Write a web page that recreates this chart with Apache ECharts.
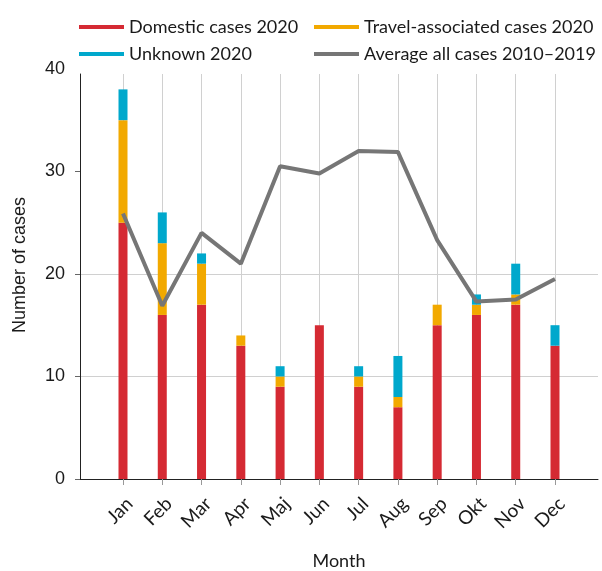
<!DOCTYPE html>
<html>
<head>
<meta charset="utf-8">
<script src="https://cdn.jsdelivr.net/npm/echarts@6/dist/echarts.min.js"></script>
<style>
  html, body { margin: 0; padding: 0; background: #fff; }
  #chart { width: 602px; height: 571px; }
</style>
</head>
<body>
<div id="chart"></div>
<script>
const months = ['Jan', 'Feb', 'Mar', 'Apr', 'Maj', 'Jun', 'Jul', 'Aug', 'Sep', 'Okt', 'Nov', 'Dec'];
const domestic = [25, 16, 17, 13, 9, 15, 9, 7, 15, 16, 17, 13];
const travel = [10, 7, 4, 1, 1, 0, 1, 1, 2, 1, 1, 0];
const unknown = [3, 3, 1, 0, 1, 0, 1, 4, 0, 1, 3, 2];
const average = [25.9, 16.9, 24.0, 21.0, 30.5, 29.8, 32.0, 31.9, 23.3, 17.3, 17.5, 19.5];
const yTicks = [0, 10, 20, 30, 40];

const chart = echarts.init(document.getElementById('chart'));

const textColor = '#1a1a1a';
const legendText = { fontFamily: 'Lato', fontSize: 18, color: textColor };

// plot area of the bars stops a little below the "40" label
const plotMax = 39.5;

const option = {
    animation: false,
    legend: [
        {
            orient: 'vertical',
            left: 74, top: 13,
            itemWidth: 45, itemHeight: 4, itemGap: 9,
            textStyle: legendText,
            data: [
                { name: 'Domestic cases 2020', icon: 'rect' },
                { name: 'Unknown 2020', icon: 'rect' }
            ]
        },
        {
            orient: 'vertical',
            left: 309, top: 13,
            itemWidth: 45, itemHeight: 4, itemGap: 9,
            textStyle: legendText,
            data: [
                { name: 'Travel-associated cases 2020', icon: 'rect' },
                { name: 'Average all cases 2010\u20132019', icon: 'rect' }
            ]
        }
    ],
    grid: [
        { left: 80, right: 4, top: 69, bottom: 92, outerBoundsMode: 'none', containLabel: false },
        { left: 123, right: 47, top: 74, bottom: 92, outerBoundsMode: 'none', containLabel: false }
    ],
    xAxis: [
        {
            gridIndex: 0,
            type: 'category',
            data: [''],
            axisLine: { lineStyle: { color: '#222', width: 1 } },
            axisTick: { show: false },
            axisLabel: { show: false },
            splitLine: { show: false }
        },
        {
            gridIndex: 1,
            type: 'category',
            data: months,
            boundaryGap: false,
            axisLine: { show: false },
            axisTick: { show: true, length: 6, lineStyle: { color: '#999' } },
            splitLine: { show: true, lineStyle: { color: '#d0d0d0', width: 1 } },
            axisLabel: {
                rotate: 45, margin: 15,
                align: 'right', verticalAlign: 'top',
                fontFamily: 'Lato', fontSize: 19, color: textColor
            },
            name: 'Month',
            nameLocation: 'middle',
            nameGap: 73,
            nameMoveOverlap: false,
            nameTextStyle: { fontFamily: 'Lato', fontSize: 18, color: textColor }
        }
    ],
    yAxis: [
        {
            gridIndex: 0,
            type: 'value',
            min: yTicks[0], max: yTicks[yTicks.length - 1], interval: 10,
            axisLine: { show: false },
            axisTick: { show: true, length: 5, lineStyle: { color: '#666' }, customValues: yTicks.slice(0, -1) },
            splitLine: { show: true, showMaxLine: false, lineStyle: { color: '#d0d0d0', width: 1 } },
            axisLabel: {
                margin: 15,
                fontFamily: 'Liberation Sans', fontSize: 18, color: textColor
            },
            name: 'Number of cases',
            nameLocation: 'middle',
            nameRotate: 90,
            nameGap: 51,
            nameMoveOverlap: false,
            nameTextStyle: { fontFamily: 'Liberation Sans', fontSize: 18, color: textColor, padding: [0, 0, 0, 18] }
        },
        {
            gridIndex: 1,
            type: 'value',
            min: 0, max: plotMax,
            offset: 43,
            axisLine: { show: true, lineStyle: { color: '#222', width: 1 } },
            axisTick: { show: false },
            axisLabel: { show: false },
            splitLine: { show: false }
        }
    ],
    series: [
        {
            name: 'Domestic cases 2020',
            type: 'bar', stack: 'cases',
            xAxisIndex: 1, yAxisIndex: 1,
            barWidth: 9, clip: false,
            itemStyle: { color: '#d52a33' },
            data: domestic
        },
        {
            name: 'Travel-associated cases 2020',
            type: 'bar', stack: 'cases',
            xAxisIndex: 1, yAxisIndex: 1,
            barWidth: 9, clip: false,
            itemStyle: { color: '#f2a900' },
            data: travel
        },
        {
            name: 'Unknown 2020',
            type: 'bar', stack: 'cases',
            xAxisIndex: 1, yAxisIndex: 1,
            barWidth: 9, clip: false,
            itemStyle: { color: '#00a8cc' },
            data: unknown
        },
        {
            name: 'Average all cases 2010\u20132019',
            type: 'line',
            xAxisIndex: 1, yAxisIndex: 1,
            symbol: 'none', clip: false,
            lineStyle: { color: '#767676', width: 4 },
            itemStyle: { color: '#767676' },
            data: average
        }
    ]
};

chart.setOption(option);
</script>
</body>
</html>
